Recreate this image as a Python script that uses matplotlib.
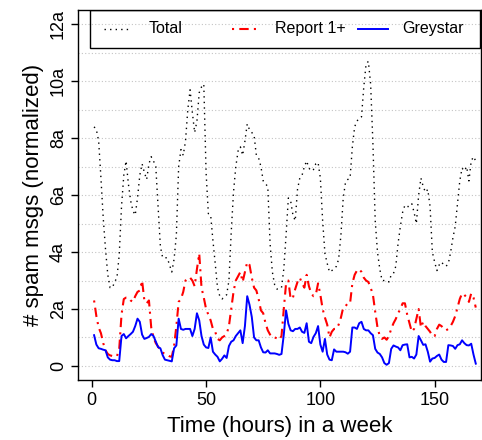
import matplotlib.pyplot as plt
import numpy as np

plt.rcParams['font.family'] = ['Liberation Sans', 'DejaVu Sans']

# hourly spam volume over one week, normalized
hours = np.arange(1, 169)

total = [
    8.4, 8.3, 7.9, 6.6, 5.2, 4.1, 3.2, 2.75, 2.75, 2.95,
    3.1, 3.9, 5.6, 6.7, 7.2, 6.4, 5.8, 5.45, 5.3, 5.9,
    6.7, 7.1, 6.8, 6.55, 7.1, 7.35, 7.2, 7.0, 5.6, 4.2,
    3.8, 3.8, 3.8, 3.55, 3.3, 3.75, 4.6, 7.0, 7.6, 7.4,
    7.9, 9.0, 9.7, 8.9, 8.2, 8.6, 9.6, 9.8, 9.9, 6.8,
    5.35, 5.3, 4.4, 3.6, 2.75, 2.45, 2.35, 2.45, 2.5, 3.0,
    4.7, 6.1, 7.0, 7.55, 7.7, 7.4, 7.9, 8.5, 8.3, 8.2,
    8.1, 7.4, 7.3, 7.0, 6.5, 6.4, 6.3, 4.3, 3.3, 2.85,
    2.7, 2.7, 2.75, 3.4, 4.6, 5.9, 5.8, 5.3, 5.1, 6.2,
    6.6, 6.7, 7.0, 7.2, 6.95, 6.85, 6.9, 7.1, 7.15, 6.6,
    5.1, 3.95, 3.6, 3.3, 3.35, 3.4, 3.5, 3.75, 4.6, 5.9,
    6.45, 6.55, 6.6, 7.7, 8.4, 8.6, 8.7, 8.75, 9.8, 10.6,
    10.7, 9.9, 7.8, 5.1, 4.0, 3.4, 3.0, 3.0, 3.0, 2.95,
    3.2, 3.25, 3.5, 4.3, 4.9, 5.4, 5.65, 5.6, 5.6, 5.7,
    5.4, 5.0, 6.0, 6.6, 6.3, 6.1, 6.2, 5.6, 4.0, 3.65,
    3.35, 3.55, 3.65, 3.55, 3.5, 3.6, 4.0, 4.5, 4.9, 5.7,
    6.5, 6.95, 6.85, 7.0, 6.5, 7.2, 7.35, 7.2,
]

report = [
    2.3, 1.75, 1.35, 1.15, 0.8, 0.55, 0.42, 0.37, 0.35, 0.35,
    0.34, 0.6, 1.8, 2.35, 2.4, 2.4, 2.3, 2.25, 2.45, 2.6,
    2.65, 3.0, 2.3, 2.2, 2.3, 1.35, 1.0, 0.8, 0.68, 0.55,
    0.47, 0.42, 0.4, 0.34, 0.32, 0.7, 1.4, 2.25, 2.35, 2.6,
    3.0, 3.1, 3.1, 3.0, 2.8, 3.4, 3.95, 2.75, 2.4, 2.0,
    1.8, 1.6, 1.3, 1.2, 0.95, 0.9, 1.0, 1.05, 1.12, 1.4,
    2.0, 2.6, 3.0, 3.15, 3.3, 2.95, 3.3, 3.65, 3.55, 3.1,
    2.75, 2.65, 2.35, 1.95, 1.85, 1.5, 1.25, 1.1, 1.0, 1.0,
    0.97, 0.92, 1.05, 2.0, 2.9, 3.0, 2.35, 2.4, 2.7, 2.95,
    3.1, 2.9, 2.75, 3.2, 2.8, 2.55, 2.45, 2.5, 2.9, 2.5,
    2.0, 1.7, 1.45, 1.0, 1.2, 1.3, 1.3, 1.45, 1.7, 2.05,
    2.1, 2.2, 2.2, 2.9, 3.2, 3.35, 3.4, 3.3, 3.1, 3.0,
    2.95, 2.75, 2.5, 1.9, 1.35, 1.05, 0.95, 1.0, 0.92, 1.05,
    1.3, 1.5, 1.65, 1.85, 2.0, 2.2, 2.2, 1.8, 1.5, 1.2,
    1.3, 1.65, 2.0, 1.35, 1.55, 1.4, 1.3, 1.2, 1.05, 1.05,
    1.3, 1.45, 1.4, 1.3, 1.25, 1.3, 1.4, 1.55, 1.75, 2.05,
    2.35, 2.55, 2.5, 2.4, 2.25, 2.55, 2.4, 2.05,
]

greystar = [
    1.08, 0.75, 0.62, 0.6, 0.57, 0.55, 0.3, 0.22, 0.2, 0.2,
    0.17, 0.17, 1.05, 1.12, 0.97, 1.05, 1.12, 1.2, 1.4, 1.66,
    1.55, 1.1, 0.95, 0.98, 1.02, 1.12, 1.05, 0.85, 0.66, 0.62,
    0.38, 0.22, 0.2, 0.18, 0.16, 0.62, 0.72, 1.66, 1.3, 1.27,
    1.3, 1.3, 1.3, 1.05, 1.3, 1.85, 1.6, 1.05, 0.75, 0.65,
    0.63, 1.0, 0.5, 0.4, 0.32, 0.16, 0.25, 0.37, 0.28, 0.7,
    0.85, 0.9, 1.05, 1.15, 1.25, 0.8, 1.4, 2.45, 2.15, 1.72,
    1.0, 0.9, 0.9, 0.65, 0.48, 0.47, 0.55, 0.44, 0.44, 0.44,
    0.42, 0.39, 0.42, 1.1, 1.95, 1.48, 1.25, 1.22, 1.3, 1.3,
    1.35, 1.2, 1.16, 1.5, 0.85, 0.8, 1.02, 1.15, 1.4, 0.75,
    0.5, 0.95, 0.4, 0.22, 0.2, 0.58, 0.5, 0.5, 0.5, 0.5,
    0.48, 0.43, 0.5, 1.35, 1.35, 1.3, 1.5, 1.55, 1.3, 1.25,
    1.25, 1.15, 1.08, 0.6, 0.47, 0.42, 0.3, 0.1, 0.04, 0.1,
    0.6, 0.72, 0.68, 0.65, 0.55, 0.73, 0.75, 0.76, 0.3, 0.32,
    0.26, 0.4, 1.05, 0.9, 0.74, 0.76, 0.5, 0.15, 0.26, 0.28,
    0.35, 0.4, 0.22, 0.14, 0.14, 0.73, 0.72, 0.7, 0.6, 0.73,
    0.76, 0.9, 0.8, 0.73, 0.72, 0.78, 0.4, 0.08,
]

ytick_vals = [0, 2, 4, 6, 8, 10, 12]
ytick_labels = ["0", "2a", "4a", "6a", "8a", "10a", "12a"]
xtick_vals = [0, 50, 100, 150]

fig = plt.figure(figsize=(4.82, 4.4), dpi=100)
ax = fig.add_axes([0.162, 0.136, 0.836, 0.841])

# light dotted grid at every unit
for v in range(0, 13):
    ax.axhline(v, color="#c4c4c4", lw=0.8, ls=(0, (1, 2)), zorder=0)

ax.plot(hours, total, color="black", lw=1.0, ls=(0, (1, 3)))
ax.plot(hours, report, color="red", lw=1.5, ls=(0, (1, 2.5, 4.5, 2.5)))
ax.plot(hours, greystar, color="blue", lw=1.4)

ax.set_xlim(-6, 170.3)
ax.set_ylim(-0.5, 12.5)
ax.set_xticks(xtick_vals)
ax.set_yticks(ytick_vals)
ax.set_yticklabels(ytick_labels, rotation=90, va="center")
ax.tick_params(labelsize=13, length=5, width=1, direction="out")
ax.tick_params(axis="y", pad=3)
for s in ax.spines.values():
    s.set_linewidth(1)

ax.set_xlabel("Time (hours) in a week", fontsize=16, labelpad=5)
ax.set_ylabel("# spam msgs (normalized)", fontsize=16, labelpad=4)

# legend box across the top
tr = ax.transAxes
ax.add_patch(plt.Rectangle((0.030, 0.897), 0.9675, 0.103, transform=tr,
                           fill=False, edgecolor="black", lw=1, zorder=5))
entries = [
    ("Total", "black", 1.0, (0, (1, 3)), 0.065, 0.129, 0.174),
    ("Report 1+", "red", 1.5, (0, (1, 2.5, 4.5, 2.5)), 0.382, 0.452, 0.489),
    ("Greystar", "blue", 1.4, "-", 0.695, 0.769, 0.804),
]
for name, c, w, style, x0, x1, xt in entries:
    ax.plot([x0, x1], [0.949, 0.949], transform=tr, color=c, lw=w, ls=style)
    ax.text(xt, 0.949, name, transform=tr, fontsize=11.5, va="center")

fig.savefig("out.png", dpi=100)
